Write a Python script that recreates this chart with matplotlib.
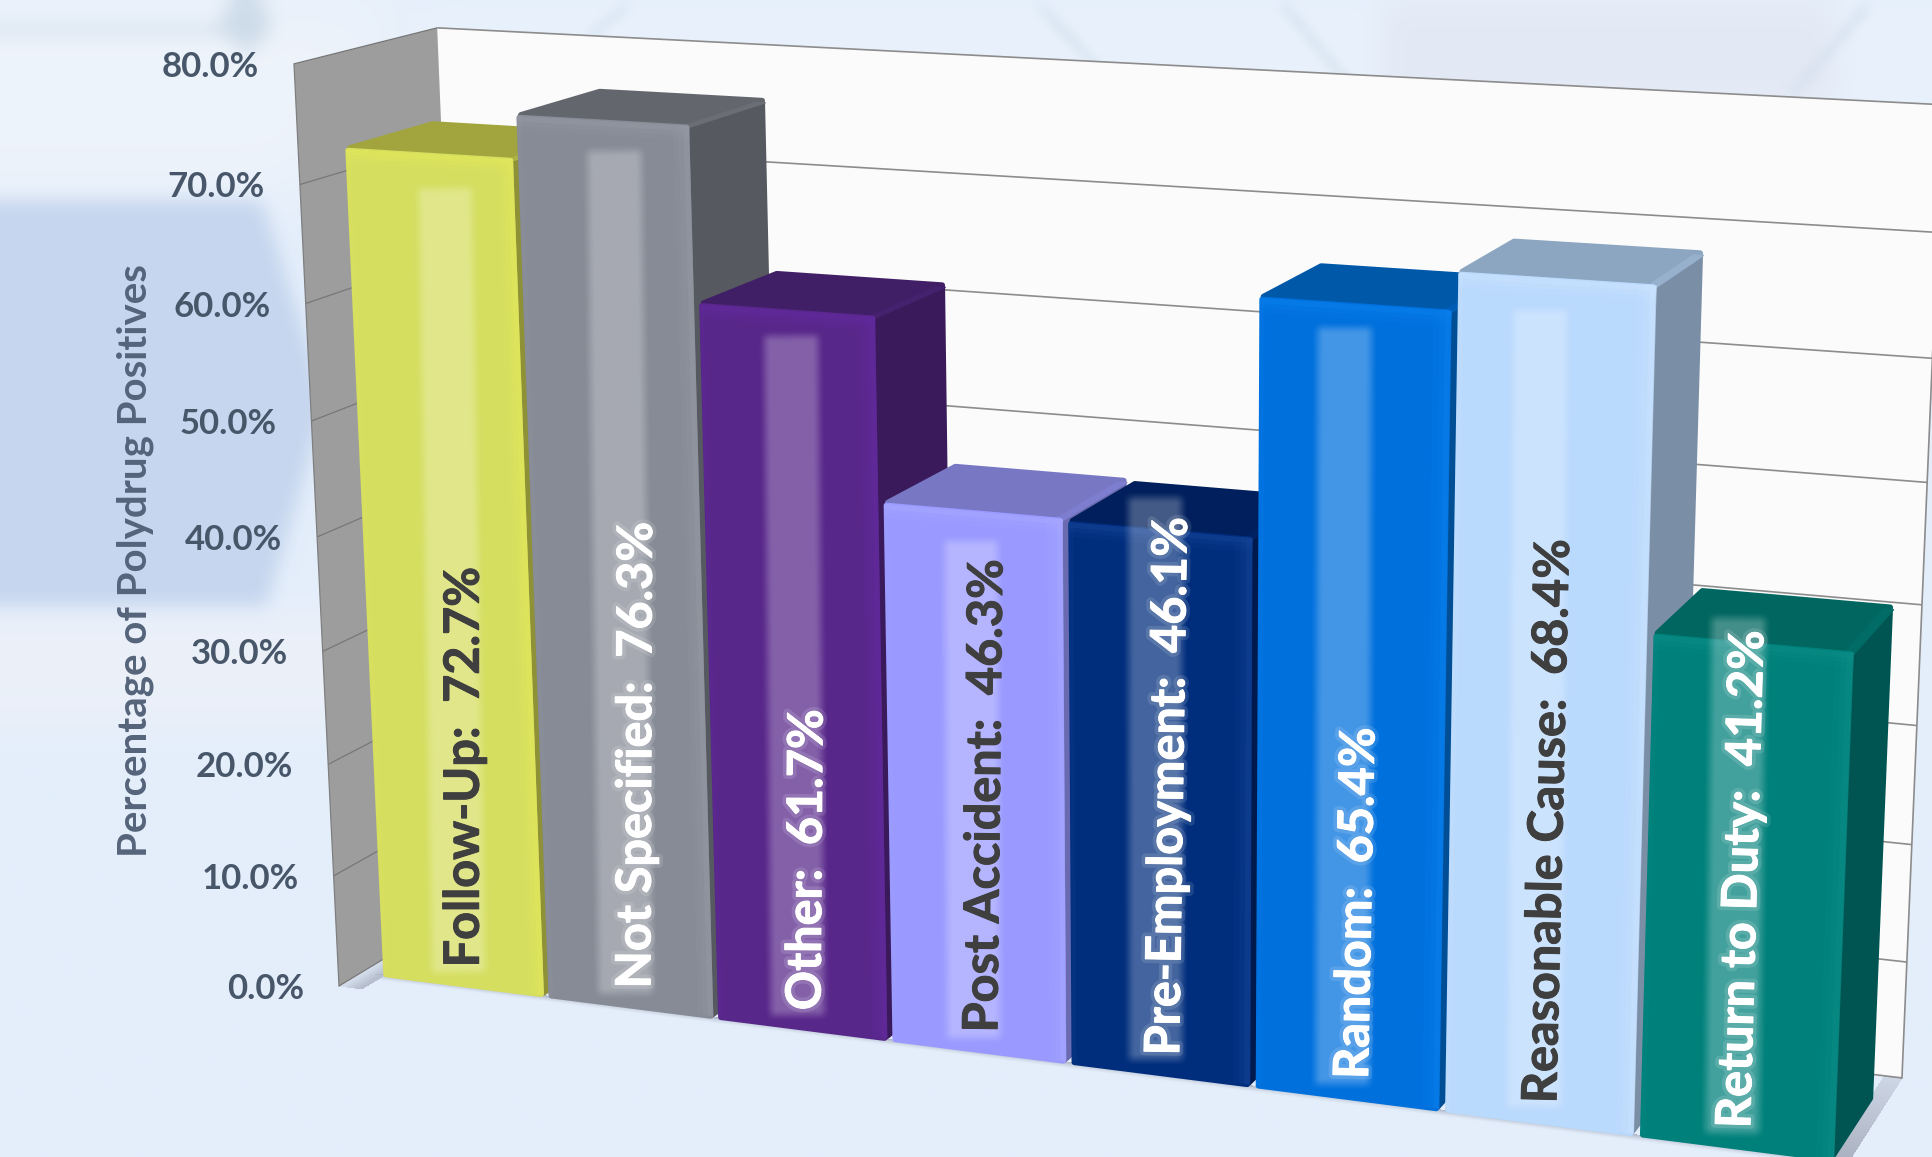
#!/usr/bin/env python3
"""3D style bar chart of polydrug positives by reason for test."""
import numpy as np
import matplotlib
matplotlib.use("Agg")
import matplotlib.patheffects as pe
import matplotlib.pyplot as plt
from matplotlib.colors import to_rgb
from matplotlib.patches import Polygon
from matplotlib.path import Path
from matplotlib.transforms import Affine2D

WIDTH, HEIGHT = 1933, 1157

categories = ["Follow-Up", "Not Specified", "Other", "Post Accident",
              "Pre-Employment", "Random", "Reasonable Cause", "Return to Duty"]
values = [72.7, 76.3, 61.7, 46.3, 46.1, 65.4, 68.4, 41.2]
ticks = [0, 10, 20, 30, 40, 50, 60, 70, 80]

front_colors = ["#D5DE5F", "#868B96", "#58278A", "#9999FF",
                "#002D7C", "#0070DD", "#B9D9FD", "#00807A"]
top_colors = ["#A2A53E", "#63666D", "#411F66", "#7777C4",
              "#001F5C", "#0058A8", "#8CA5C0", "#00665F"]
side_colors = ["#8E9135", "#565960", "#3A1A5A", "#6A6AB0",
               "#001A4E", "#004F96", "#7A8EA6", "#005552"]
edge_colors = ["#E4EA5C", "#959AA4", "#642BA0", "#A8A8FF",
               "#164498", "#0A80EE", "#CDE5FF", "#0E8E88"]
text_colors = ["#3F3F3F", "white", "white", "#3F3F3F",
               "white", "white", "#3F3F3F", "white"]
# how far the soft stripe behind each label stops from the bar top, in percent
glow_offsets = [-2.5, -2.1, -1.8, -2.1, 2.9, -1.5, -2.1, 2.3]
# sideways nudge of each label, in pixels
label_nudges = [-2, 2, 0, 0, 0, 2, -2, -6]

# homogeneous camera: (across, percent / 80, depth, 1) -> screen
CAMERA = np.array([[1300.0, -59.96, 159.2, 339.0],
                   [65.83, -925.4, -32.7, 986.0],
                   [-0.10791, -0.0509, 0.05336, 1.0]])

BAR_START = 0.014
BAR_PITCH = 0.1224
BAR_WIDTH = 0.1205
BAR_FRONT = 0.17
BAR_BACK = 0.78
# labels and their stripes lean towards their own vanishing points
TEXT_VP = (470.0, 48000.0)
GLOW_VP = (1210.0, 45000.0)


def project(u, pct, w):
    """Project chart space to screen pixels."""
    u, pct, w = np.broadcast_arrays(u, pct, w)
    pts = np.stack([u, pct / 80.0, w, np.ones_like(u, dtype=float)], axis=-1)
    h = pts @ CAMERA.T
    return h[..., 0] / h[..., 2], h[..., 1] / h[..., 2]


def quad(u, pct, w):
    x, y = project(np.asarray(u, float), np.asarray(pct, float), np.asarray(w, float))
    return np.column_stack([x, y])


def face(ax, pts, color, alpha=1.0, round_lw=0.0):
    ax.add_patch(Polygon(pts, closed=True, facecolor=color, alpha=alpha, zorder=1,
                         edgecolor=color if round_lw else "none",
                         linewidth=round_lw, joinstyle="round"))


def box_blur(img, size):
    kernel = np.ones(size) / size
    pad = size
    out = np.pad(img, pad, mode="edge")
    out = np.apply_along_axis(lambda r: np.convolve(r, kernel, mode="same"), 0, out)
    out = np.apply_along_axis(lambda r: np.convolve(r, kernel, mode="same"), 1, out)
    return out[pad:-pad, pad:-pad]


def background(ax):
    """Washed out hexagon backdrop."""
    step = 3
    xs, ys = np.meshgrid(np.arange(0, WIDTH, step), np.arange(0, HEIGHT, step))
    pts = np.column_stack([xs.ravel(), ys.ravel()])
    img = np.ones(xs.shape + (3,)) * np.array(to_rgb("#E4EEFB"))

    def paint(outline, color, strength, blur):
        mask = Path(outline).contains_points(pts).reshape(xs.shape).astype(float)
        mask = box_blur(box_blur(mask, blur), blur) * strength
        img[:] = img * (1 - mask[..., None]) + np.array(to_rgb(color)) * mask[..., None]

    # top glow and lighter patches
    paint([(0, 0), (420, 0), (300, 190), (0, 190)], "#EFF4FA", 0.9, 25)
    paint([(420, 0), (1933, 0), (1933, 120), (420, 120)], "#E9F2FC", 0.9, 15)
    paint([(1378, 0), (1833, 0), (1833, 100), (1378, 100)], "#E2E8F4", 0.9, 12)
    paint([(0, 610), (360, 610), (360, 720), (0, 720)], "#EEF1F8", 0.7, 14)
    # big hexagon on the left
    paint([(0, 199), (260, 199), (325, 400), (265, 604), (0, 604)], "#C6D6EE", 1.0, 7)
    # bar and ball along the top left
    paint([(0, 18), (235, 18), (235, 32), (0, 32)], "#D8E3EE", 0.8, 6)
    paint([(222, 10), (245, -12), (268, 10), (268, 30), (245, 52), (222, 30)],
          "#CBDAE8", 0.9, 7)
    # thin struts above the plot
    for x0, x1, y1 in [(625, 586, 32), (1035, 1094, 62), (1280, 1343, 76), (1866, 1788, 92)]:
        paint([(x0 - 5, 0), (x0 + 5, 0), (x1 + 5, y1), (x1 - 5, y1)], "#CFDCEA", 0.7, 4)

    ax.imshow(img, extent=(0, WIDTH, HEIGHT, 0), interpolation="bilinear",
              aspect="auto", zorder=0)


def floor_shadow(ax):
    """Soft gray shadow on the floor around the bars."""
    right = BAR_START + 7 * BAR_PITCH + BAR_WIDTH
    xs, ys = np.meshgrid(np.arange(330.0, WIDTH), np.arange(880.0, HEIGHT))
    inverse = np.linalg.inv(CAMERA[:, [0, 2, 3]])
    h = np.stack([xs, ys, np.ones_like(xs)], axis=-1) @ inverse.T
    u, w = h[..., 0] / h[..., 2], h[..., 1] / h[..., 2]

    front = 0.5 * np.clip(1 - (BAR_FRONT - w) / 0.065, 0, 1) ** 1.5
    front = np.where((w <= BAR_FRONT) & (u > BAR_START - 0.004), front, 0)
    side = 0.52 - 0.32 * np.clip((w - BAR_FRONT) / 0.83, 0, 1)
    side = np.where((u >= right - 0.003) & (w > BAR_FRONT - 0.05), side, 0)
    left = 0.4 * np.clip(1 - (BAR_START - u) / 0.02, 0, 1)
    left = np.where(u <= BAR_START + 0.003, left, 0)
    alpha = np.maximum(np.maximum(front, side), left)
    alpha = np.where((u >= 0) & (u <= 1) & (w >= 0) & (w <= 1), alpha, 0)

    rgba = np.zeros(alpha.shape + (4,))
    rgba[..., :3] = (0.46, 0.48, 0.55)
    rgba[..., 3] = alpha
    ax.imshow(rgba, extent=(330, WIDTH, HEIGHT, 880), interpolation="bilinear",
              aspect="auto", zorder=1)


def walls(ax):
    face(ax, quad([0, 1, 1, 0], [0, 0, 80, 80], 1), "#FBFBFB")
    for tick in ticks:
        x, y = project(np.array([0.0, 1.0]), tick, 1)
        ax.plot(x, y, color="#8C8C8C", lw=1.2, solid_capstyle="butt", zorder=1)
    x, y = project(np.array([1.0, 1.0]), np.array([0.0, 80.0]), 1)
    ax.plot(x, y, color="#8C8C8C", lw=1.2, zorder=1)

    face(ax, quad(0, [0, 0, 80, 80], [0, 1, 1, 0]), "#9D9D9D")
    for tick in ticks:
        x, y = project(0, tick, np.array([0.0, 1.0]))
        ax.plot(x, y, color="#777777", lw=0.9, solid_capstyle="butt", zorder=1)
    x, y = project(0, np.array([0.0, 80.0]), 0)
    ax.plot(x, y, color="#7F7F7F", lw=0.9, zorder=1)


def lean(x, y, vp):
    """Screen angle of a line through (x, y) and a vanishing point below it."""
    return np.degrees(np.arctan2(vp[1] - y, x - vp[0]))


def glow(ax, i, value):
    """Soft white stripe running up the bar behind its label."""
    u = BAR_START + BAR_PITCH * i + 0.48 * BAR_WIDTH
    x0, y0 = (float(c) for c in project(u, 1.6, BAR_FRONT))
    angle = lean(x0, y0, GLOW_VP)
    _, top_y = project(u, value + glow_offsets[i], BAR_FRONT)
    length = y0 - float(top_y)
    half, soft, tail = 34.0, 14.0, 14.0

    ss = np.arange(-half, half + 1.0)
    ts = np.arange(length, -tail - 1.0, -1.0)
    across = np.clip((half - np.abs(ss)) / soft, 0, 1)
    along = np.clip(np.minimum(ts + tail, length - ts) / soft, 0, 1)
    across = across * across * (3 - 2 * across)
    along = along * along * (3 - 2 * along)
    rgba = np.ones((len(ts), len(ss), 4))
    rgba[..., 3] = 0.27 * np.outer(along, across)

    tilt = Affine2D().rotate_deg_around(x0, y0, 90 - angle)
    ax.imshow(rgba, extent=(x0 - half, x0 + half, y0 + tail, y0 - length),
              interpolation="bilinear", aspect="auto", zorder=1,
              transform=tilt + ax.transData)


def draw_bar(ax, i, value):
    u0 = BAR_START + BAR_PITCH * i
    u1 = u0 + BAR_WIDTH
    w0, w1 = BAR_FRONT, BAR_BACK
    # faces are pulled in a little so their round strokes land on the true outline
    du, dv, dw = 0.0035, 0.35, 0.012
    ub = u1 - 0.002

    face(ax, quad(ub, [0, 0, value - dv, value - dv],
                  [w0 + dw, w1 - dw, w1 - dw, w0 + dw]), side_colors[i], round_lw=4)
    face(ax, quad([u0 + du, ub, ub, u0 + du], value - dv / 2,
                  [w0 + dw, w0 + dw, w1 - dw, w1 - dw]), top_colors[i], round_lw=4)
    rim = np.array(to_rgb(top_colors[i])) * 0.78 + np.array(to_rgb(front_colors[i])) * 0.22
    face(ax, quad([u1 - 0.006, u1, u1, u1 - 0.006], value - dv,
                  [w0, w0, w1 - dw, w1 - dw]), rim, round_lw=1)
    face(ax, quad([u0 + du, ub, ub, u0 + du], [0, 0, value - dv, value - dv], w0),
         front_colors[i], round_lw=4)

    # bevel: the strips get narrower and stronger towards the edge
    edge = edge_colors[i]
    top = value - dv + 0.12
    for bev_v, bev_u, alpha in [(1.2, 0.011, 0.16), (0.8, 0.0075, 0.22), (0.45, 0.004, 0.38)]:
        face(ax, quad([u0 + 0.002, u1, u1, u0 + 0.002], [top - bev_v, top - bev_v, top, top], w0),
             edge, alpha)
        face(ax, quad([u1 - bev_u, u1, u1, u1 - bev_u], [0, 0, top, top], w0), edge, alpha)
    face(ax, quad([u0 + 0.002, u0 + 0.005, u0 + 0.005, u0 + 0.002], [0, 0, top, top], w0),
         edge, 0.2)
    glow(ax, i, value)


def main():
    fig = plt.figure(figsize=(WIDTH / 100, HEIGHT / 100), dpi=100)
    ax = fig.add_axes([0, 0, 1, 1])
    background(ax)
    walls(ax)
    floor_shadow(ax)
    for i, value in enumerate(values):
        draw_bar(ax, i, value)

    # value axis labels
    for tick in ticks:
        x, y = project(0, tick, 0)
        ax.text(float(x) - 35, float(y) + 3, f"{tick:.1f}%", ha="right", va="center",
                family="Lato", weight="bold", fontsize=25, color="#48566A")
    ax.text(135, 561, "Percentage of Polydrug Positives", rotation=90, ha="center",
            va="center", family="Lato", weight="bold", fontsize=29, color="#55647A")

    # labels run up each bar
    for i, (name, value) in enumerate(zip(categories, values)):
        u = BAR_START + BAR_PITCH * i + 0.53 * BAR_WIDTH
        x, y = (float(c) for c in project(u, 1.6, BAR_FRONT))
        x += label_nudges[i]
        color = text_colors[i]
        effects = [pe.withStroke(linewidth=0.7, foreground=color)]
        if color == "white":
            effects.insert(0, pe.withStroke(linewidth=6, foreground="white", alpha=0.12))
        ax.text(x, y, f"{name}:  {value:.1f}%", rotation=lean(x, y, TEXT_VP),
                rotation_mode="anchor", ha="left", va="center", family="Lato",
                weight="bold", fontsize=35, color=color, path_effects=effects)

    ax.set_xlim(0, WIDTH)
    ax.set_ylim(HEIGHT, 0)
    ax.axis("off")
    fig.savefig("out.png", dpi=100)


if __name__ == "__main__":
    main()
